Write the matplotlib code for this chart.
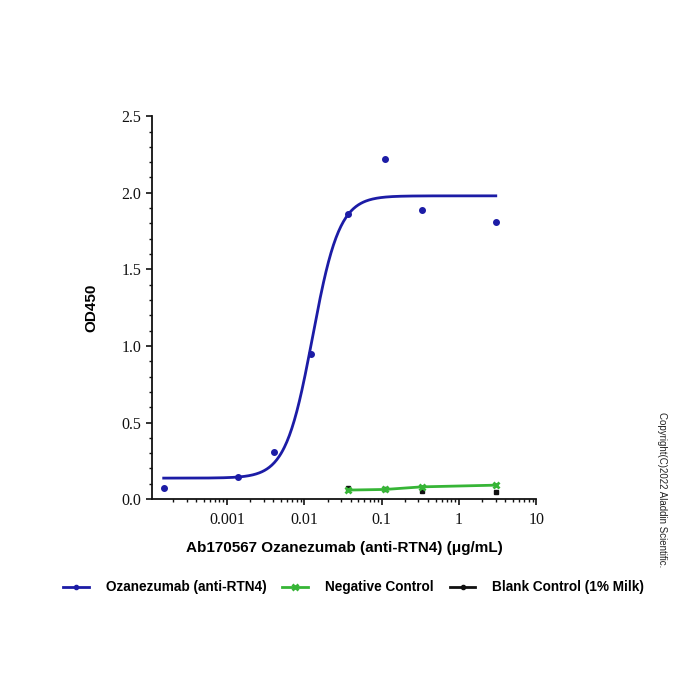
import numpy as np
import matplotlib
matplotlib.use("Agg")
import matplotlib.pyplot as plt
from matplotlib.lines import Line2D
from matplotlib.ticker import LogLocator, NullFormatter, FixedLocator, MultipleLocator

# ---- data ----
conc_blue = [0.000152, 0.00137, 0.00412, 0.0123, 0.037, 0.111, 0.333, 3.0]
od_blue = [0.072, 0.142, 0.31, 0.945, 1.86, 2.22, 1.89, 1.81]

conc_ctrl = [0.037, 0.111, 0.333, 3.0]
od_neg = [0.059, 0.063, 0.080, 0.091]
od_blank = [0.072, 0.064, 0.056, 0.046]
err_blank = [0.008, 0.006, 0.012, 0.012]

# 4-parameter logistic fit of the blue series (as drawn)
fit_bottom = 0.137
fit_top = 1.98
fit_ec50 = 0.0128
fit_hill = 2.5

xticks = [0.001, 0.01, 0.1, 1, 10]
xticklabels = ["0.001", "0.01", "0.1", "1", "10"]
yticks = [0.0, 0.5, 1.0, 1.5, 2.0, 2.5]
yticklabels = ["0.0", "0.5", "1.0", "1.5", "2.0", "2.5"]

legend_labels = ["Ozanezumab (anti-RTN4)", "Negative Control", "Blank Control (1% Milk)"]
xlabel = "Ab170567 Ozanezumab (anti-RTN4) (\u03bcg/mL)"
ylabel = "OD450"

BLUE = "#1c1ca6"
GREEN = "#36b536"
BLACK = "#111111"

fig = plt.figure(figsize=(7, 7), dpi=100)
ax = fig.add_axes([0.217, 0.287, 0.549, 0.547])

# fit curve
xf = np.logspace(np.log10(conc_blue[0]), np.log10(conc_blue[-1]), 400)
yf = fit_bottom + (fit_top - fit_bottom) / (1 + (fit_ec50 / xf) ** fit_hill)
ax.plot(xf, yf, color=BLUE, lw=2.0, zorder=3)
ax.plot(conc_blue, od_blue, 'o', color=BLUE, ms=4, zorder=4)

# blank control (markers + error bars)
ax.errorbar(conc_ctrl, od_blank, yerr=err_blank, color=BLACK, ls='none', marker='s', ms=2.5,
            capsize=0, elinewidth=2.2, zorder=2)
# negative control
ax.plot(conc_ctrl, od_neg, color=GREEN, lw=2.0, marker='x', ms=5, mew=2, zorder=3)

ax.set_xscale('log')
ax.set_xlim(1.07e-4, 10)
ax.set_ylim(0, 2.5)

ax.xaxis.set_major_locator(FixedLocator(xticks))
ax.set_xticklabels(xticklabels)
ax.xaxis.set_minor_locator(LogLocator(base=10, subs=np.arange(2, 10), numticks=20))
ax.xaxis.set_minor_formatter(NullFormatter())
ax.set_yticks(yticks)
ax.set_yticklabels(yticklabels)
ax.yaxis.set_minor_locator(MultipleLocator(0.1))

for s in ['top', 'right']:
    ax.spines[s].set_visible(False)
for s in ['left', 'bottom']:
    ax.spines[s].set_linewidth(1.3)
    ax.spines[s].set_color('#111111')

ax.tick_params(axis='both', which='major', direction='out', length=4, width=1.2,
               labelsize=11, colors='#111111')
ax.tick_params(axis='both', which='minor', direction='out', length=2, width=1.0, colors='#111111')
for lab in ax.get_xticklabels() + ax.get_yticklabels():
    lab.set_family('Liberation Serif')
    lab.set_fontsize(11.5)
ax.tick_params(axis='x', pad=5)

ax.set_xlabel(xlabel, family='Liberation Sans', fontweight='bold', fontsize=11, labelpad=10)
ax.set_ylabel(ylabel, family='Liberation Sans', fontweight='bold', fontsize=11, labelpad=17)

handles = [
    Line2D([], [], color=BLUE, lw=2, marker='o', ms=3),
    Line2D([], [], color=GREEN, lw=2, marker='x', ms=4, mew=2),
    Line2D([], [], color=BLACK, lw=2, marker='o', ms=3),
]
fig.legend(handles, legend_labels, loc='center', bbox_to_anchor=(0.505, 0.161), ncol=3,
           frameon=False, prop={'family': 'Liberation Sans', 'weight': 'bold', 'size': 9.8},
           handlelength=1.9, columnspacing=1.2, handletextpad=1.2)

fig.text(0.946, 0.30, "Copyright(C)2022 Aladdin Scientific.", rotation=-90,
         family='Liberation Sans', fontsize=7, color='#222222', ha='center', va='center')

fig.savefig("out.png", dpi=100, facecolor='white')
